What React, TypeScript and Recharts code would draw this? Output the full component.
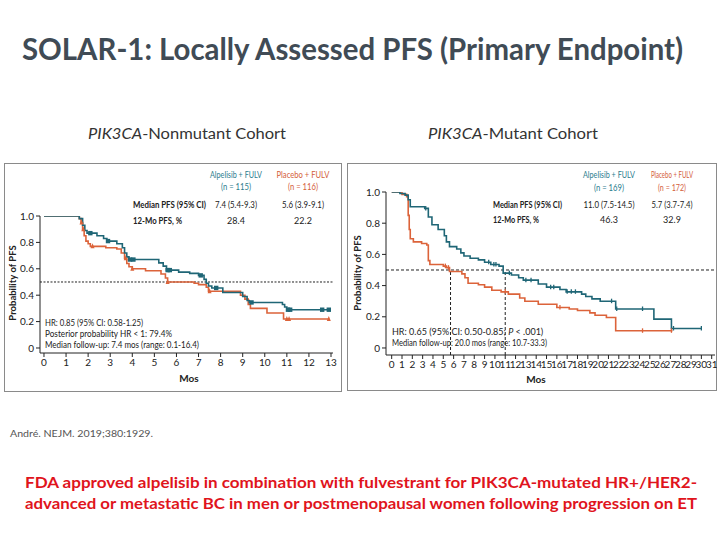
import { ComposedChart, Line, Scatter, XAxis, YAxis, ReferenceLine } from "recharts";

const TEAL = "#1f6676";
const ORANGE = "#dc633a";
const TEAL_TXT = "#2b7c8e";
const ORANGE_TXT = "#d4603c";
const INK = "#222";
const FONT = "Lato, 'Open Sans', sans-serif";

// PIK3CA-nonmutant cohort (KM steps: t = months, s = probability of PFS)
const nonmutAlpelisib = [
  { t: 0, s: 1 }, { t: 1.6, s: 0.98 }, { t: 1.75, s: 0.93 }, { t: 1.85, s: 0.89 }, { t: 1.95, s: 0.87 },
  { t: 2.4, s: 0.85 }, { t: 2.7, s: 0.83 }, { t: 2.85, s: 0.81 }, { t: 3.3, s: 0.79 }, { t: 3.55, s: 0.76 },
  { t: 3.65, s: 0.72 }, { t: 3.75, s: 0.69 }, { t: 3.85, s: 0.67 }, { t: 5.2, s: 0.645 }, { t: 5.4, s: 0.62 },
  { t: 5.55, s: 0.59 }, { t: 6.1, s: 0.575 }, { t: 6.6, s: 0.565 }, { t: 7.0, s: 0.55 }, { t: 7.25, s: 0.52 },
  { t: 7.35, s: 0.49 }, { t: 7.45, s: 0.47 }, { t: 7.6, s: 0.455 }, { t: 8.1, s: 0.42 }, { t: 9.0, s: 0.39 },
  { t: 9.2, s: 0.36 }, { t: 9.3, s: 0.345 }, { t: 10.8, s: 0.33 }, { t: 10.9, s: 0.31 }, { t: 11.0, s: 0.29 },
  { t: 12.9, s: 0.29 },
];
const nonmutPlacebo = [
  { t: 0, s: 1 }, { t: 1.6, s: 0.98 }, { t: 1.68, s: 0.95 }, { t: 1.75, s: 0.9 }, { t: 1.82, s: 0.85 },
  { t: 1.9, s: 0.81 }, { t: 2.0, s: 0.79 }, { t: 2.1, s: 0.77 }, { t: 2.8, s: 0.76 }, { t: 3.3, s: 0.75 },
  { t: 3.5, s: 0.72 }, { t: 3.65, s: 0.68 }, { t: 3.75, s: 0.64 }, { t: 3.85, s: 0.615 }, { t: 4.0, s: 0.6 },
  { t: 4.6, s: 0.585 }, { t: 5.3, s: 0.56 }, { t: 5.5, s: 0.53 }, { t: 5.6, s: 0.5 }, { t: 6.8, s: 0.49 },
  { t: 7.0, s: 0.48 }, { t: 7.35, s: 0.46 }, { t: 7.45, s: 0.43 }, { t: 8.9, s: 0.4 }, { t: 9.1, s: 0.37 },
  { t: 9.25, s: 0.33 }, { t: 9.35, s: 0.3 }, { t: 10.1, s: 0.265 }, { t: 10.85, s: 0.22 }, { t: 12.9, s: 0.22 },
];
const nonmutAlpCensor = [
  { t: 2.1, s: 0.87 }, { t: 2.9, s: 0.81 }, { t: 3.9, s: 0.67 }, { t: 4.05, s: 0.67 }, { t: 5.6, s: 0.59 },
  { t: 5.7, s: 0.59 }, { t: 7.1, s: 0.55 }, { t: 7.8, s: 0.455 }, { t: 9.4, s: 0.345 }, { t: 11.05, s: 0.29 },
  { t: 11.15, s: 0.29 }, { t: 12.6, s: 0.29 }, { t: 12.9, s: 0.29 },
];
const nonmutPlaCensor = [
  { t: 1.7, s: 0.95 }, { t: 1.78, s: 0.9 }, { t: 2.2, s: 0.77 }, { t: 3.7, s: 0.68 }, { t: 4.0, s: 0.6 },
  { t: 5.6, s: 0.5 }, { t: 7.5, s: 0.43 }, { t: 11.0, s: 0.22 }, { t: 11.1, s: 0.22 }, { t: 12.9, s: 0.22 },
];

// PIK3CA-mutant cohort
const mutAlpelisib = [
  { t: 0, s: 1 }, { t: 0.8, s: 0.99 }, { t: 1.3, s: 0.98 }, { t: 1.6, s: 0.95 }, { t: 1.8, s: 0.905 },
  { t: 3.2, s: 0.895 }, { t: 3.55, s: 0.84 }, { t: 3.9, s: 0.79 }, { t: 4.5, s: 0.76 }, { t: 5.1, s: 0.72 },
  { t: 5.3, s: 0.68 }, { t: 5.6, s: 0.65 }, { t: 6.3, s: 0.635 }, { t: 6.7, s: 0.61 }, { t: 7.0, s: 0.59 },
  { t: 7.6, s: 0.575 }, { t: 8.4, s: 0.565 }, { t: 9.0, s: 0.55 }, { t: 9.6, s: 0.535 }, { t: 10.4, s: 0.525 },
  { t: 10.8, s: 0.48 }, { t: 11.6, s: 0.468 }, { t: 12.3, s: 0.45 }, { t: 12.75, s: 0.435 }, { t: 14.2, s: 0.41 },
  { t: 15.0, s: 0.39 }, { t: 16.3, s: 0.375 }, { t: 16.9, s: 0.36 }, { t: 18.4, s: 0.345 }, { t: 18.8, s: 0.33 },
  { t: 19.4, s: 0.315 }, { t: 20.2, s: 0.3 }, { t: 21.7, s: 0.25 }, { t: 25.4, s: 0.185 }, { t: 27.1, s: 0.125 },
  { t: 30.0, s: 0.125 },
];
const mutPlacebo = [
  { t: 0, s: 1 }, { t: 1.0, s: 0.985 }, { t: 1.45, s: 0.97 }, { t: 1.6, s: 0.85 }, { t: 1.7, s: 0.76 },
  { t: 1.8, s: 0.7 }, { t: 2.1, s: 0.68 }, { t: 2.9, s: 0.67 }, { t: 3.4, s: 0.66 }, { t: 3.55, s: 0.56 },
  { t: 3.7, s: 0.535 }, { t: 5.0, s: 0.525 }, { t: 5.3, s: 0.515 }, { t: 5.6, s: 0.49 }, { t: 6.8, s: 0.475 },
  { t: 7.1, s: 0.45 }, { t: 7.4, s: 0.415 }, { t: 8.4, s: 0.405 }, { t: 9.0, s: 0.39 }, { t: 9.7, s: 0.37 },
  { t: 10.6, s: 0.36 }, { t: 11.3, s: 0.345 }, { t: 12.4, s: 0.32 }, { t: 12.9, s: 0.3 }, { t: 14.2, s: 0.28 },
  { t: 16.0, s: 0.26 }, { t: 17.2, s: 0.25 }, { t: 18.0, s: 0.24 }, { t: 19.2, s: 0.225 }, { t: 19.7, s: 0.21 },
  { t: 20.8, s: 0.195 }, { t: 21.7, s: 0.11 }, { t: 27.2, s: 0.11 },
];
const mutAlpCensor = [
  { t: 3.3, s: 0.895 }, { t: 9.4, s: 0.55 }, { t: 9.9, s: 0.535 }, { t: 10.1, s: 0.535 }, { t: 11.4, s: 0.48 },
  { t: 13.0, s: 0.435 }, { t: 13.5, s: 0.435 }, { t: 15.4, s: 0.39 }, { t: 15.7, s: 0.39 }, { t: 17.0, s: 0.36 },
  { t: 17.4, s: 0.36 }, { t: 17.8, s: 0.36 }, { t: 21.3, s: 0.3 }, { t: 21.8, s: 0.25 }, { t: 24.3, s: 0.25 },
  { t: 27.3, s: 0.125 }, { t: 30.0, s: 0.125 },
];
const mutPlaCensor = [
  { t: 5.2, s: 0.525 }, { t: 5.5, s: 0.515 }, { t: 11.0, s: 0.36 }, { t: 16.3, s: 0.26 }, { t: 24.3, s: 0.11 },
  { t: 27.1, s: 0.11 },
];

const nonmutXTicks = [0, 1, 2, 3, 4, 5, 6, 7, 8, 9, 10, 11, 12, 13];
const mutXTicks = [0, 1, 2, 3, 4, 5, 6, 7, 8, 9, 10, 11, 12, 13, 14, 15, 16, 17, 18, 19, 20, 21, 22, 23, 24, 25, 26, 27, 28, 29, 30, 31];
const yTicks = [0, 0.2, 0.4, 0.6, 0.8, 1.0];
const mutMedians = [5.7, 11.0];

const fmtY = (v: number) => (v === 0 ? "0" : v.toFixed(1));
const tickStyle = { fontSize: 10, fill: INK, fontFamily: FONT };

const Square = (p: any) => <rect x={p.cx - 2.2} y={p.cy - 2.2} width={4.4} height={4.4} fill={TEAL} />;
const Tri = (p: any) => <path d={`M${p.cx - 2},${p.cy + 2}L${p.cx + 2},${p.cy + 2}L${p.cx},${p.cy - 3}Z`} fill={ORANGE} />;
const TickMark = (color: string) => (p: any) => (
  <line x1={p.cx} x2={p.cx} y1={p.cy - 2.5} y2={p.cy + 2} stroke={color} strokeWidth={1.3} />
);

function NonmutantChart() {
  return (
    <ComposedChart width={338} height={229} margin={{ top: 53, right: 9, bottom: 9, left: 0 }}>
      <XAxis type="number" dataKey="t" domain={[-0.18, 13.09]} ticks={nonmutXTicks} interval={0}
        allowDataOverflow tick={tickStyle} tickSize={4} stroke={INK} height={30} />
      <YAxis type="number" dataKey="s" domain={[-0.038, 1]} ticks={yTicks} tickFormatter={fmtY}
        allowDataOverflow tick={tickStyle} tickSize={4} stroke={INK} width={36} />
      <ReferenceLine y={0.5} stroke={INK} strokeDasharray="2 1.5" strokeWidth={1} />
      <Line data={nonmutPlacebo} dataKey="s" type="stepAfter" stroke={ORANGE} strokeWidth={1.6} dot={false} isAnimationActive={false} />
      <Line data={nonmutAlpelisib} dataKey="s" type="stepAfter" stroke={TEAL} strokeWidth={1.6} dot={false} isAnimationActive={false} />
      <Scatter data={nonmutPlaCensor} dataKey="s" shape={Tri} isAnimationActive={false} />
      <Scatter data={nonmutAlpCensor} dataKey="s" shape={Square} isAnimationActive={false} />
    </ComposedChart>
  );
}

function MutantChart() {
  return (
    <ComposedChart width={369} height={228} margin={{ top: 29, right: 2, bottom: 6, left: 0 }}>
      <XAxis type="number" dataKey="t" domain={[-0.55, 31.32]} ticks={mutXTicks} interval={0}
        allowDataOverflow tick={tickStyle} tickSize={4} stroke={INK} height={30} />
      <YAxis type="number" dataKey="s" domain={[-0.045, 1]} ticks={yTicks} tickFormatter={fmtY}
        allowDataOverflow tick={tickStyle} tickSize={4} stroke={INK} width={38} />
      <ReferenceLine y={0.5} stroke={INK} strokeDasharray="3 2" strokeWidth={1} />
      {mutMedians.map((m) => (
        <ReferenceLine key={m} segment={[{ x: m, y: -0.045 }, { x: m, y: 0.5 }]} stroke={INK}
          strokeDasharray="3 2" strokeWidth={1} />
      ))}
      <Line data={mutPlacebo} dataKey="s" type="stepAfter" stroke={ORANGE} strokeWidth={1.6} dot={false} isAnimationActive={false} />
      <Line data={mutAlpelisib} dataKey="s" type="stepAfter" stroke={TEAL} strokeWidth={1.6} dot={false} isAnimationActive={false} />
      <Scatter data={mutPlaCensor} dataKey="s" shape={TickMark(ORANGE)} isAnimationActive={false} />
      <Scatter data={mutAlpCensor} dataKey="s" shape={TickMark(TEAL)} isAnimationActive={false} />
    </ComposedChart>
  );
}

const box = (left: number, top: number, w: number, h: number) => ({
  position: "absolute" as const, left, top, width: w, height: h,
});

// narrow text helper: squeezes a label into the width it has on the slide
const T = ({ x, y, w, children, ...rest }: any) => (
  <text x={x} y={y} textLength={w} lengthAdjust="spacingAndGlyphs" {...rest}>{children}</text>
);

export default function App() {
  const small = { fontFamily: FONT, fontSize: 9 };
  return (
    <div style={{ position: "relative", width: 720, height: 540, background: "#fff", overflow: "hidden" }}>
      <style>{"body{margin:0}"}</style>

      <div style={{ ...box(4, 163, 338, 229), border: "1px solid #8a8a8a", boxSizing: "border-box" }} />
      <div style={{ ...box(347, 163, 370, 228), border: "1px solid #8a8a8a", boxSizing: "border-box" }} />

      <div style={box(4, 163, 338, 229)}><NonmutantChart /></div>
      <div style={box(348, 163, 369, 228)}><MutantChart /></div>

      <svg width={720} height={540} style={{ position: "absolute", left: 0, top: 0, pointerEvents: "none" }}>
        <T x={22} y={60} w={661} fill="#404b55" style={{ fontFamily: FONT, fontSize: 30, fontWeight: 700 }}>
          SOLAR-1: Locally Assessed PFS (Primary Endpoint)
        </T>

        <T x={88} y={139} w={198} fill="#333" style={{ fontFamily: FONT, fontSize: 15.5 }}>
          <tspan fontStyle="italic">PIK3CA</tspan>-Nonmutant Cohort
        </T>
        <T x={428} y={139} w={170} fill="#333" style={{ fontFamily: FONT, fontSize: 15.5 }}>
          <tspan fontStyle="italic">PIK3CA</tspan>-Mutant Cohort
        </T>

        {/* nonmutant annotations */}
        <g style={small} textAnchor="middle">
          <T x={236} y={178} w={52} fill={TEAL_TXT}>Alpelisib + FULV</T>
          <T x={236} y={190} w={30} fill={TEAL_TXT}>(n = 115)</T>
          <T x={303} y={178} w={53} fill={ORANGE_TXT}>Placebo + FULV</T>
          <T x={303} y={190} w={30} fill={ORANGE_TXT}>(n = 116)</T>
          <T x={236} y={208} w={42} fill={INK}>7.4 (5.4-9.3)</T>
          <T x={303} y={208} w={42} fill={INK}>5.6 (3.9-9.1)</T>
          <text x={236} y={224} fill={INK}>28.4</text>
          <text x={303} y={224} fill={INK}>22.2</text>
        </g>
        <g style={small} fill={INK}>
          <T x={133} y={208} w={73} fontWeight={700}>Median PFS (95% CI)</T>
          <T x={133} y={224} w={49} fontWeight={700}>12-Mo PFS, %</T>
          <T x={45} y={326} w={98}>HR: 0.85 (95% CI: 0.58-1.25)</T>
          <T x={45} y={337} w={127}>Posterior probability HR &lt; 1: 79.4%</T>
          <T x={45} y={348} w={154}>Median follow-up: 7.4 mos (range: 0.1-16.4)</T>
        </g>
        <text x={12} y={283} transform="rotate(-90 12 283)" textAnchor="middle" dominantBaseline="central"
          fill={INK} style={{ fontFamily: FONT, fontSize: 9.5, fontWeight: 700 }}>Probability of PFS</text>
        <text x={189} y={382} textAnchor="middle" fill={INK}
          style={{ fontFamily: FONT, fontSize: 10, fontWeight: 700 }}>Mos</text>

        {/* mutant annotations */}
        <g style={small} textAnchor="middle">
          <T x={609} y={178} w={52} fill={TEAL_TXT}>Alpelisib + FULV</T>
          <T x={609} y={191} w={30} fill={TEAL_TXT}>(n = 169)</T>
          <T x={672} y={178} w={42} fill={ORANGE_TXT}>Placebo + FULV</T>
          <T x={672} y={191} w={28} fill={ORANGE_TXT}>(n = 172)</T>
          <T x={609} y={208} w={51} fill={INK}>11.0 (7.5-14.5)</T>
          <T x={672} y={208} w={41} fill={INK}>5.7 (3.7-7.4)</T>
          <text x={609} y={223} fill={INK}>46.3</text>
          <text x={672} y={223} fill={INK}>32.9</text>
        </g>
        <g style={small} fill={INK}>
          <T x={493} y={208} w={69} fontWeight={700}>Median PFS (95% CI)</T>
          <T x={493} y={223} w={46} fontWeight={700}>12-Mo PFS, %</T>
          <text x={392} y={335}>HR: 0.65 (95% CI: 0.50-0.85; <tspan fontStyle="italic">P</tspan> &lt; .001)</text>
          <T x={392} y={346} w={155}>Median follow-up: 20.0 mos (range: 10.7-33.3)</T>
        </g>
        <text x={357} y={273} transform="rotate(-90 357 273)" textAnchor="middle" dominantBaseline="central"
          fill={INK} style={{ fontFamily: FONT, fontSize: 9.5, fontWeight: 700 }}>Probability of PFS</text>
        <text x={536} y={383} textAnchor="middle" fill={INK}
          style={{ fontFamily: FONT, fontSize: 10, fontWeight: 700 }}>Mos</text>

        <T x={10} y={437} w={143} fill="#555" style={{ fontFamily: FONT, fontSize: 9.5 }}>André. NEJM. 2019;380:1929.</T>

        <g fill="#e0141c" style={{ fontFamily: FONT, fontSize: 16, fontWeight: 700 }}>
          <T x={25} y={488} w={672}>
            FDA approved alpelisib in combination with fulvestrant for PIK3CA-mutated HR+/HER2-
          </T>
          <T x={25} y={509} w={672}>
            advanced or metastatic BC in men or postmenopausal women following progression on ET
          </T>
        </g>
      </svg>
    </div>
  );
}
